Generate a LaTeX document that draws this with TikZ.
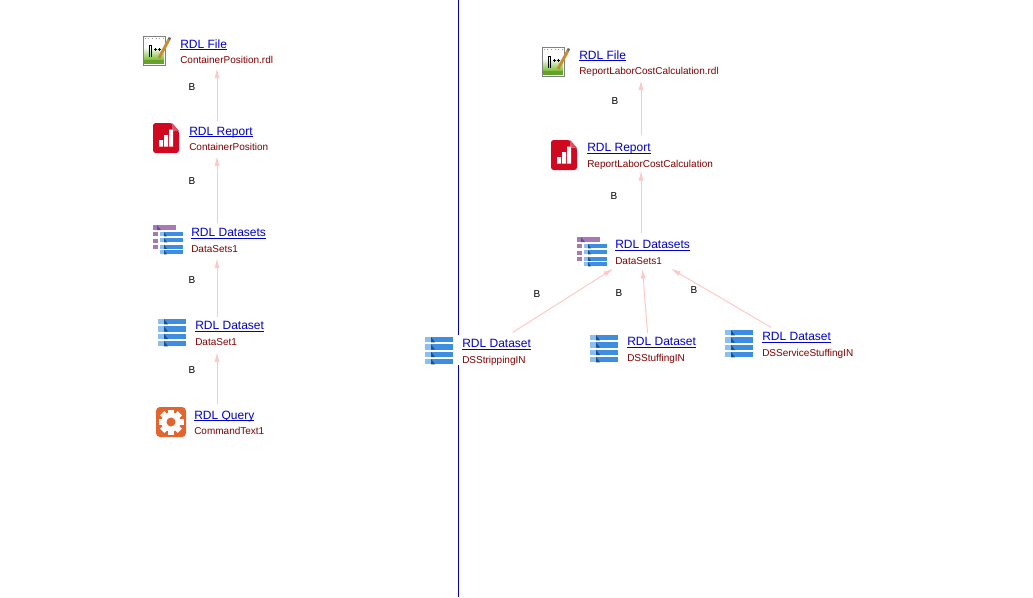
\documentclass[tikz,border=0pt]{standalone}
\usepackage{fontspec}
\setmainfont{Liberation Sans}
\usetikzlibrary{arrows.meta}
\definecolor{linkpink}{RGB}{255, 200, 200}
\definecolor{titleblue}{RGB}{0, 0, 204}
\definecolor{namered}{RGB}{128, 0, 0}
\definecolor{splitblue}{RGB}{0, 0, 190}
\definecolor{rowblue}{RGB}{61, 142, 224}
\definecolor{rowlight}{RGB}{140, 190, 240}
\definecolor{rowdark}{RGB}{30, 80, 140}
\definecolor{setpurple}{RGB}{170, 120, 180}
\definecolor{reportred}{RGB}{208, 8, 32}
\definecolor{queryorange}{RGB}{228, 100, 48}
\definecolor{filegreen}{RGB}{120, 190, 50}
\definecolor{pencilbrown}{RGB}{200, 140, 50}
\newsavebox{\titlebox}
\newcommand{\entitytext}[2]{\sbox{\titlebox}{\textcolor{titleblue}{#1}}\textcolor{titleblue}{\rlap{\rule[-1.1pt]{\wd\titlebox}{0.6pt}}}\usebox{\titlebox}\\[2.4pt]{\fontsize{7.5}{9}\selectfont\textcolor{namered}{#2}}}
\tikzset{
  entitybox/.style={fill=white, minimum width=75pt, minimum height=22.5pt, inner sep=0pt, outer xsep=0pt, outer ysep=1.9pt},
  entitylabel/.style={anchor=west, align=left, inner sep=0pt, font=\fontsize{9}{9}\selectfont},
  linktag/.style={inner sep=0pt, font=\fontsize{7.5}{9}\selectfont},
  link/.style={draw=linkpink, line width=0.75pt, -{Latex[length=7.5pt, width=3.8pt]}},
  pics/dataseticon/.style={code={
    \foreach \rowy in {0, 7.3, 14.6, 21.9} {
      \fill[rowblue] (0, \rowy) rectangle (28, \rowy+5.4);
      \fill[rowlight] (0, \rowy) rectangle (6, \rowy+5.4);
      \fill[rowdark] (6, \rowy) -- (10, \rowy+5.4) -- (6, \rowy+5.4) -- cycle;
    }
  }},
  pics/datasetsicon/.style={code={
    \fill[setpurple] (0, 0) rectangle (23, 5);
    \fill[rowdark!70!setpurple] (4, 0) -- (8, 5) -- (4, 5) -- cycle;
    \foreach \rowy in {7, 13.5, 20} \fill[setpurple] (0, \rowy) rectangle (5, \rowy+4);
    \foreach \rowy in {7, 13, 19.5, 25} {
      \fill[rowblue] (7, \rowy) rectangle (30, \rowy+4.4);
      \fill[rowlight] (7, \rowy) rectangle (11, \rowy+4.4);
      \fill[rowdark] (11, \rowy) -- (14, \rowy+4.4) -- (11, \rowy+4.4) -- cycle;
    }
  }},
  pics/reporticon/.style={code={
    \fill[reportred, rounded corners=2pt] (0, 0) -- (19, 0) -- (26, 8) -- (26, 30) -- (0, 30) -- cycle;
    \fill[reportred!70!white] (19, 0) -- (26, 8) -- (19, 8) -- cycle;
    \fill[white] (6, 17) rectangle (10, 23.5) (11, 12) rectangle (15, 23.5) (16, 6.5) rectangle (20, 23.5);
  }},
  pics/queryicon/.style={code={
    \fill[queryorange, rounded corners=3pt] (0, 0) rectangle (30, 30);
    \foreach \toothangle in {0, 45, ..., 315}
      \fill[white, rotate around={\toothangle:(15, 15)}] (12, 2.5) rectangle (18, 8);
    \fill[white] (15, 15) circle (9.5);
    \fill[queryorange] (15, 15) circle (4.5);
  }},
  pics/fileicon/.style={code={
    \fill[white] (0, 0) rectangle (22, 29);
    \shade[top color=white, bottom color=filegreen] (1, 11) rectangle (21, 24);
    \fill[filegreen!85!black] (1, 24) rectangle (21, 28);
    \draw[black!50, line width=0.75pt] (0, 0) rectangle (22, 29);
    \draw[black!40, line width=0.75pt, dotted] (1.5, 2.5) -- (20.5, 2.5);
    \draw[black, line width=0.6pt] (6, 21) -- (6, 9.5) -- (8.5, 9.5) -- (8.5, 21);
    \draw[black, line width=0.6pt] (11, 13.5) -- (14, 13.5) (12.5, 12) -- (12.5, 15) (15, 13.5) -- (18, 13.5) (16.5, 12) -- (16.5, 15);
    \draw[pencilbrown, line width=2.2pt] (16, 22) -- (26, 3.5);
    \draw[black!60, line width=2pt] (26, 3.5) -- (27, 1.5);
  }},
}
\begin{document}
\begin{tikzpicture}[x=0.75pt, y=-0.75pt]
  \useasboundingbox (0, 0) rectangle (1033, 597);
  \coordinate (splittop) at (458.5, 0);
  \coordinate (splitbottom) at (458.5, 597);
  \draw[splitblue, line width=0.75pt] (splittop) -- (splitbottom);

  \node[entitybox] (fileA) at (217, 50.5) {};
  \node[entitybox] (reportA) at (217, 138.5) {};
  \node[entitybox] (setsA) at (217, 240.5) {};
  \node[entitybox] (setA) at (217, 334.5) {};
  \node[entitybox] (queryA) at (217, 422) {};
  \node[entitybox] (fileB) at (641, 62.5) {};
  \node[entitybox] (reportB) at (641, 153) {};
  \node[entitybox] (setsB) at (641, 251) {};
  \node[entitybox] (setB) at (485, 350) {};
  \node[entitybox] (setC) at (649, 350.5) {};
  \node[entitybox] (setD) at (801, 345) {};

  \draw[link] (reportA) -- (fileA);
  \draw[link] (setsA) -- (reportA);
  \draw[link] (setA) -- (setsA);
  \draw[link] (queryA) -- (setA);
  \draw[link] (reportB) -- (fileB);
  \draw[link] (setsB) -- (reportB);
  \draw[link] (setB) -- (setsB);
  \draw[link] (setC) -- (setsB);
  \draw[link] (setD) -- (setsB);

  \pic at (143, 36) {fileicon};
  \pic at (153, 123) {reporticon};
  \pic at (153, 225) {datasetsicon};
  \pic at (158, 319) {dataseticon};
  \pic at (156, 407) {queryicon};
  \pic at (542, 47) {fileicon};
  \pic at (551, 140) {reporticon};
  \pic at (577, 237) {datasetsicon};
  \pic at (425, 337) {dataseticon};
  \pic at (590, 335) {dataseticon};
  \pic at (725, 330) {dataseticon};

  \node[entitylabel] (fileAtext) at (180, 51.5) {\entitytext{RDL File}{ContainerPosition.rdl}};
  \node[entitylabel] (reportAtext) at (189, 139) {\entitytext{RDL Report}{ContainerPosition}};
  \node[entitylabel] (setsAtext) at (191, 240.5) {\entitytext{RDL Datasets}{DataSets1}};
  \node[entitylabel] (setAtext) at (195, 333.5) {\entitytext{RDL Dataset}{DataSet1}};
  \node[entitylabel] (queryAtext) at (194, 422.5) {\entitytext{RDL Query}{CommandText1}};
  \node[entitylabel] (fileBtext) at (579, 63.5) {\entitytext{RDL File}{ReportLaborCostCalculation.rdl}};
  \node[entitylabel] (reportBtext) at (587, 156.5) {\entitytext{RDL Report}{ReportLaborCostCalculation}};
  \node[entitylabel] (setsBtext) at (615, 252.5) {\entitytext{RDL Datasets}{DataSets1}};
  \node[entitylabel] (setBtext) at (462, 352.5) {\entitytext{RDL Dataset}{DSStrippingIN}};
  \node[entitylabel] (setCtext) at (627, 350.5) {\entitytext{RDL Dataset}{DSStuffingIN}};
  \node[entitylabel] (setDtext) at (762, 345.5) {\entitytext{RDL Dataset}{DSServiceStuffingIN}};

  \node[linktag] (tagA) at (192, 87) {B};
  \node[linktag] (tagB) at (192, 181) {B};
  \node[linktag] (tagC) at (192, 280) {B};
  \node[linktag] (tagD) at (192, 370) {B};
  \node[linktag] (tagE) at (615, 101) {B};
  \node[linktag] (tagF) at (614, 196) {B};
  \node[linktag] (tagG) at (537, 294) {B};
  \node[linktag] (tagH) at (619, 293) {B};
  \node[linktag] (tagI) at (694, 290) {B};
\end{tikzpicture}
\end{document}
